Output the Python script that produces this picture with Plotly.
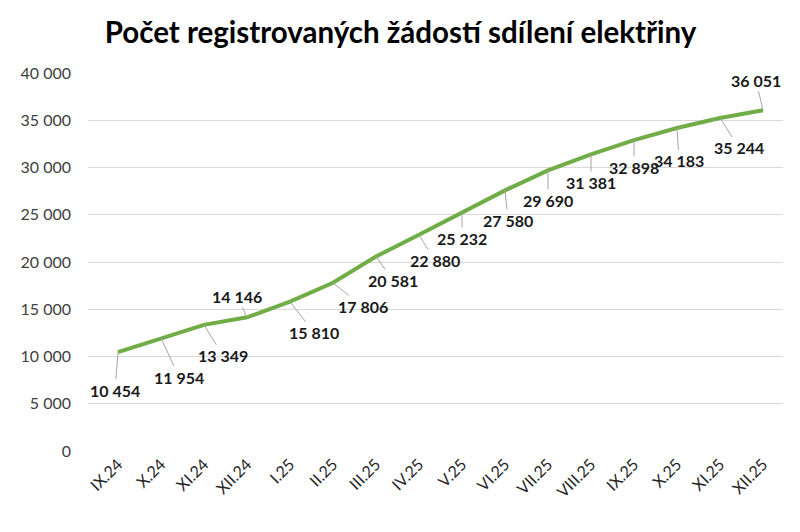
"""
Počet registrovaných žádostí sdílení elektřiny - line chart with leader-line labels.
"""

import plotly.graph_objects as go

months = [
    "IX.24", "X.24", "XI.24", "XII.24", "I.25", "II.25", "III.25", "IV.25",
    "V.25", "VI.25", "VII.25", "VIII.25", "IX.25", "X.25", "XI.25", "XII.25",
]
requests = [
    10454, 11954, 13349, 14146, 15810, 17806, 20581, 22880,
    25232, 27580, 29690, 31381, 32898, 34183, 35244, 36051,
]

# pixel offsets of each data label from its point (like Excel's moved labels)
label_dx = [-3, 18, 19, -10, 24, 30, 17, 16, 0, 3, 0, 0, 0, 2, 19, -7]
label_dy = [38, 39, 31, -21, 31, 24, 24, 26, 26, 30, 30, 28, 27, 33, 30, -30]

y_ticks = list(range(0, 40001, 5000))

FONT = "Lato"
GREEN = "#70AD47"


def fmt(v: int) -> str:
    return f"{v:,}".replace(",", " ")


fig = go.Figure(
    go.Scatter(
        x=months,
        y=requests,
        mode="lines",
        line={"color": GREEN, "width": 4},
        hoverinfo="x+y",
    )
)

for m, v, dx, dy in zip(months, requests, label_dx, label_dy):
    fig.add_annotation(
        x=m,
        y=v,
        text=f"<b>{fmt(v)}</b>",
        showarrow=True,
        arrowhead=0,
        arrowwidth=1,
        arrowcolor="#A6A6A6",
        ax=dx,
        ay=dy,
        font={"family": FONT, "size": 16, "color": "#1A1A1A"},
    )

# page body has an 8px margin, so the figure is a bit smaller than the window
fig.update_layout(
    width=792,
    height=524,
    margin={"l": 80, "r": 17, "t": 65, "b": 81},
    paper_bgcolor="white",
    plot_bgcolor="white",
    showlegend=False,
    title={
        "text": "<b>Počet registrovaných žádostí sdílení elektřiny</b>",
        "xref": "container",
        "x": 0.4956,
        "xanchor": "center",
        "yref": "container",
        "y": 1 - 25 / 524,
        "yanchor": "middle",
        "font": {"family": FONT, "size": 29.5, "color": "#000000"},
    },
)
fig.update_xaxes(
    type="category",
    tickangle=-45,
    showgrid=False,
    showline=False,
    ticks="",
    automargin=False,
    tickfont={"family": FONT, "size": 16, "color": "#262626"},
)
fig.update_yaxes(
    range=[0, 40000],
    tickvals=y_ticks,
    ticktext=[fmt(t) for t in y_ticks],
    showgrid=True,
    gridcolor="#D9D9D9",
    gridwidth=1,
    zeroline=False,
    showline=False,
    ticks="",
    automargin=False,
    ticklabelstandoff=16,
    tickfont={"family": FONT, "size": 16, "color": "#404040"},
)

fig.write_html("out.html")
